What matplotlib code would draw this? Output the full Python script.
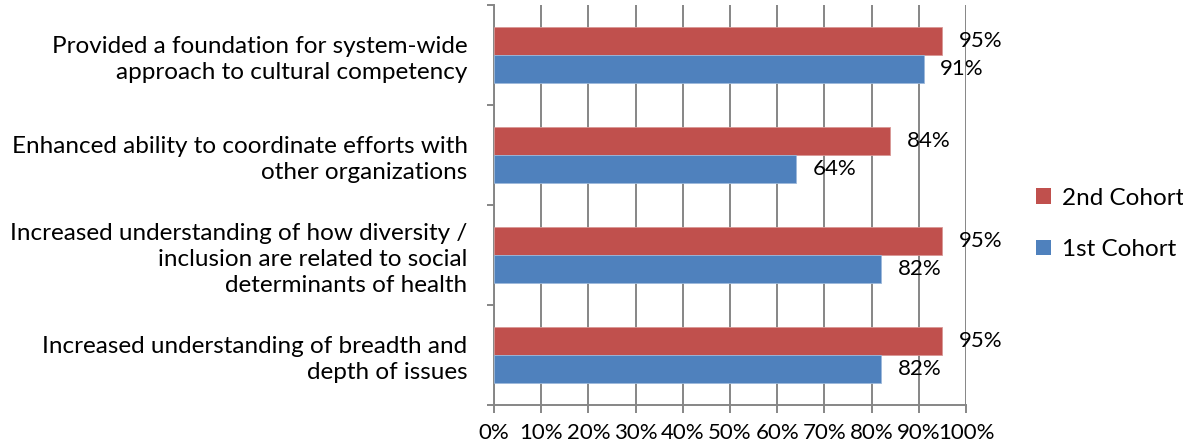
import matplotlib
matplotlib.use("Agg")
import matplotlib.pyplot as plt
from matplotlib.patches import Patch

categories = [
    "Provided a foundation for system-wide\napproach to cultural competency",
    "Enhanced ability to coordinate efforts with\nother organizations",
    "Increased understanding of how diversity /\ninclusion are related to social\ndeterminants of health",
    "Increased understanding of breadth and\ndepth of issues",
]
second_cohort = [95, 84, 95, 95]
first_cohort = [91, 64, 82, 82]
series_names = ["2nd Cohort", "1st Cohort"]
xtick_values = [0, 10, 20, 30, 40, 50, 60, 70, 80, 90, 100]
xtick_labels = [f"{v}%" for v in xtick_values]

RED = "#C0504D"
BLUE = "#4F81BD"
GRID = "#868686"
FONT = "Lato"
FS_TXT = 17.5
FS_NUM = 16

plt.rcParams["font.family"] = [FONT, "DejaVu Sans"]

fig = plt.figure(figsize=(11.83, 4.46), dpi=100)
ax = fig.add_axes([494 / 1183, 1 - 405 / 446, (966 - 494) / 1183, 400 / 446])

n = len(categories)
pos = list(range(n))
h = 0.28
red_pos = [p - h / 2 for p in pos]
blue_pos = [p + h / 2 for p in pos]
rb = ax.barh(red_pos, second_cohort, height=h, color=RED, edgecolor="#D99795", linewidth=0.6, zorder=3)
bb = ax.barh(blue_pos, first_cohort, height=h, color=BLUE, edgecolor="#9DB9DB", linewidth=0.6, zorder=3)

for bars, vals in ((rb, second_cohort), (bb, first_cohort)):
    for b, v in zip(bars, vals):
        ax.annotate(f"{v}%", (v, b.get_y() + b.get_height() / 2), xytext=(12, 0),
                    textcoords="offset points", va="center", ha="left",
                    fontsize=FS_NUM, color="black", zorder=5, annotation_clip=False)

ax.set_xlim(0, 100)
ax.set_ylim(n - 0.5, -0.5)
ax.set_xticks(xtick_values)
ax.set_xticklabels(xtick_labels, fontsize=FS_NUM)
ax.xaxis.grid(True, color=GRID, linewidth=1.4, zorder=0)
ax.set_axisbelow(True)

ax.set_yticks([p - 0.5 for p in range(n + 1)])
ax.set_yticklabels([])
ax.set_yticks(pos, minor=True)
ax.set_yticklabels(categories, minor=True, fontsize=FS_TXT, ha="right", linespacing=1.3)
ax.tick_params(axis="y", which="minor", length=0, pad=19)
ax.tick_params(axis="y", which="major", length=5, width=1.4, color=GRID, direction="out")
ax.tick_params(axis="x", length=6, width=1.4, color=GRID, direction="out", pad=7)

for s in ("top", "right"):
    ax.spines[s].set_visible(False)
for s in ("left", "bottom"):
    ax.spines[s].set_color(GRID)
    ax.spines[s].set_linewidth(1.4)

handles = [Patch(facecolor=RED), Patch(facecolor=BLUE)]
fig.legend(handles, series_names, loc="upper left", bbox_to_anchor=(1026 / 1183, 1 - 178 / 446),
           frameon=False, fontsize=FS_TXT, handlelength=0.62, handleheight=0.62, handletextpad=0.45,
           labelspacing=1.25, borderaxespad=0, borderpad=0.4)

fig.savefig("out.png", dpi=100)
